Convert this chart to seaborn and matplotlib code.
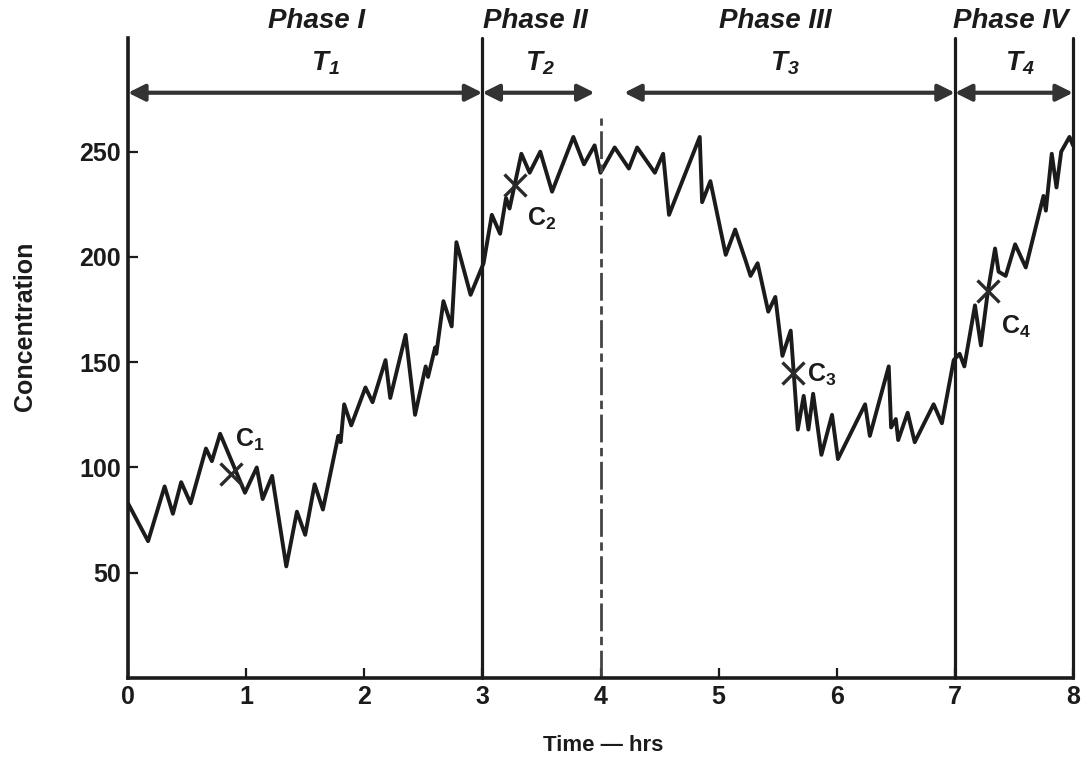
import matplotlib
matplotlib.use("Agg")
import matplotlib.pyplot as plt
import seaborn as sns
import pandas as pd

# ---- data ----
time_hrs = [0.00, 0.17, 0.31, 0.38, 0.45, 0.53, 0.66, 0.71, 0.78, 0.99,
            1.09, 1.14, 1.22, 1.34, 1.43, 1.50, 1.58, 1.65, 1.78, 1.80,
            1.83, 1.89, 2.01, 2.07, 2.18, 2.22, 2.35, 2.43, 2.52, 2.54,
            2.60, 2.61, 2.67, 2.74, 2.78, 2.90, 3.01, 3.08, 3.15, 3.20,
            3.23, 3.33, 3.40, 3.49, 3.59, 3.77, 3.86, 3.95, 4.00, 4.12,
            4.24, 4.31, 4.46, 4.53, 4.58, 4.84, 4.86, 4.93, 5.06, 5.14,
            5.23, 5.27, 5.33, 5.42, 5.48, 5.54, 5.61, 5.67, 5.72, 5.76,
            5.80, 5.87, 5.96, 6.01, 6.24, 6.28, 6.44, 6.46, 6.50, 6.52,
            6.60, 6.66, 6.82, 6.89, 6.99, 7.04, 7.08, 7.17, 7.22, 7.28,
            7.34, 7.37, 7.43, 7.51, 7.60, 7.75, 7.77, 7.82, 7.86, 7.90,
            7.97, 8.00]
concentration = [83, 65, 91, 78, 93, 83, 109, 103, 116, 88,
                 100, 85, 96, 53, 79, 68, 92, 80, 115, 112,
                 130, 120, 138, 131, 151, 133, 163, 125, 148, 143,
                 157, 154, 179, 167, 207, 182, 197, 220, 211, 228,
                 223, 249, 240, 250, 231, 257, 244, 253, 240, 252,
                 242, 252, 240, 249, 220, 257, 226, 236, 201, 213,
                 198, 191, 197, 174, 181, 153, 165, 118, 134, 118,
                 135, 106, 125, 104, 130, 115, 148, 119, 123, 113,
                 126, 112, 130, 121, 151, 154, 148, 177, 158, 184,
                 204, 193, 191, 206, 195, 229, 222, 249, 233, 250,
                 257, 253]

c_time = [0.87, 3.28, 5.63, 7.28]
c_conc = [97, 234, 145, 184]
c_labels = ["C$_1$", "C$_2$", "C$_3$", "C$_4$"]
c_label_pos = [(1.03, 113), (3.50, 218), (5.87, 144), (7.52, 167)]

phase_names = ["Phase I", "Phase II", "Phase III", "Phase IV"]
phase_centers = [1.60, 3.45, 5.48, 7.47]
t_labels = ["T$_1$", "T$_2$", "T$_3$", "T$_4$"]
t_centers = [1.67, 3.49, 5.56, 7.55]
arrow_spans = [(0, 3), (3, 3.95), (4.2, 7), (7, 8)]
phase_bounds = [3, 7, 8]

x_ticks = [0, 1, 2, 3, 4, 5, 6, 7, 8]
y_ticks = [50, 100, 150, 200, 250]

# ---- style ----
sns.set_style("ticks")
plt.rcParams["font.family"] = ["Liberation Sans", "DejaVu Sans"]
plt.rcParams["mathtext.default"] = "regular"

ink = "#1b1b1b"
fig = plt.figure(figsize=(10.82, 7.66), dpi=100)
ax = fig.add_axes([0.1183, 0.1149, 0.8734, 0.8355])

df = pd.DataFrame({"Time": time_hrs, "Concentration": concentration})
sns.lineplot(data=df, x="Time", y="Concentration", ax=ax, color=ink,
             linewidth=2.8, sort=False, estimator=None)

# crosses at the C points
ax.plot(c_time, c_conc, linestyle="none", marker="x", markersize=16,
        markeredgewidth=2.4, color="#2a2a2a", zorder=5)
for lab, (lx, ly) in zip(c_labels, c_label_pos):
    ax.text(lx, ly, lab, fontsize=18, fontweight="bold", color=ink,
            ha="center", va="center")

ax.set_xlim(0, 8)
ax.set_ylim(0, 304)

# phase boundaries
for xb in phase_bounds:
    ax.axvline(xb, color=ink, linewidth=2.3, clip_on=False)
ax.plot([4, 4], [0, 266], color="#444444", linewidth=2.0,
        linestyle=(0, (10, 2, 3, 2)))

# arrows and labels
arrow_y = 278
for (x0, x1) in arrow_spans:
    ax.annotate("", xy=(x1, arrow_y), xytext=(x0, arrow_y),
                arrowprops=dict(arrowstyle="<|-|>,head_length=1.0,head_width=0.5",
                                color="#333333", lw=3.0, shrinkA=0, shrinkB=0))
for name, xc in zip(phase_names, phase_centers):
    ax.text(xc, 312, name, fontsize=20, fontweight="bold", fontstyle="italic",
            ha="center", va="center", color=ink, clip_on=False)
for lab, xc in zip(t_labels, t_centers):
    ax.text(xc, 292, lab, fontsize=20, fontweight="bold", fontstyle="italic",
            ha="center", va="center", color=ink)

# axes cosmetics
sns.despine(ax=ax, top=True, right=True)
for side in ["left", "bottom"]:
    ax.spines[side].set_linewidth(2.6)
    ax.spines[side].set_color(ink)
ax.set_xticks(x_ticks)
ax.set_yticks(y_ticks)
ax.set_xticklabels([str(v) for v in x_ticks])
ax.set_yticklabels([str(v) for v in y_ticks])
ax.tick_params(axis="both", direction="in", length=7, width=1.6,
               colors=ink, labelsize=18, pad=5)
for lbl in ax.get_xticklabels() + ax.get_yticklabels():
    lbl.set_fontweight("bold")
ax.set_xlabel("Time \u2014 hrs", fontsize=16, fontweight="bold", color=ink)
ax.set_ylabel("Concentration", fontsize=18, fontweight="bold", color=ink)
ax.xaxis.set_label_coords(0.503, -0.105)
ax.yaxis.set_label_coords(-0.109, 0.55)
ax.xaxis.label.set_va("center")
ax.yaxis.label.set_va("center")

fig.savefig("out.png", dpi=100)
